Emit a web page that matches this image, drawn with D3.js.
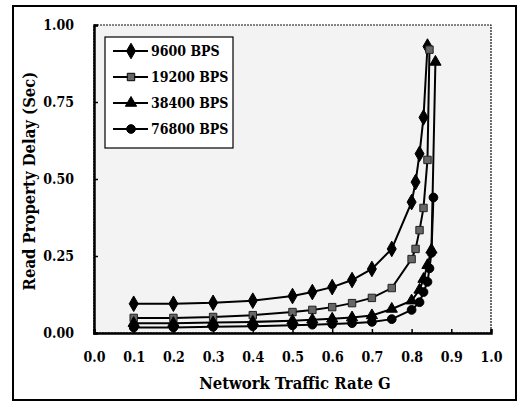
<!DOCTYPE html>
<html><head><meta charset="utf-8">
<script src="https://cdn.jsdelivr.net/npm/d3@7"></script>
<style>body{margin:0;background:#fff}svg{display:block}
svg text{font-family:"DejaVu Serif Condensed","DejaVu Serif",serif;font-weight:bold;fill:#000}</style>
</head><body>
<script>
const seriesNames = ["9600 BPS","19200 BPS","38400 BPS","76800 BPS"];
const markers = ["diamond","square","triangle","circle"];
const x9600  = [0.1,0.2,0.3,0.4,0.5,0.55,0.6,0.65,0.7,0.75,0.8,0.81,0.82,0.83,0.84];
const y9600  = [0.095,0.095,0.098,0.105,0.12,0.133,0.149,0.172,0.208,0.273,0.425,0.49,0.582,0.70,0.93];
const x19200 = [0.1,0.2,0.3,0.4,0.5,0.55,0.6,0.65,0.7,0.75,0.8,0.81,0.82,0.83,0.84,0.845];
const y19200 = [0.049,0.049,0.052,0.058,0.068,0.075,0.084,0.097,0.114,0.146,0.24,0.273,0.334,0.406,0.562,0.92];
const x38400 = [0.1,0.2,0.3,0.4,0.5,0.55,0.6,0.65,0.7,0.75,0.8,0.82,0.83,0.84,0.85,0.86];
const y38400 = [0.032,0.032,0.034,0.036,0.040,0.043,0.046,0.050,0.057,0.078,0.105,0.14,0.175,0.22,0.27,0.88];
const x76800 = [0.1,0.2,0.3,0.4,0.5,0.55,0.6,0.65,0.7,0.75,0.8,0.82,0.83,0.84,0.845,0.85,0.855];
const y76800 = [0.018,0.018,0.020,0.022,0.025,0.027,0.029,0.032,0.036,0.045,0.075,0.10,0.133,0.166,0.21,0.26,0.44];
const xTicks = [0,0.1,0.2,0.3,0.4,0.5,0.6,0.7,0.8,0.9,1.0];
const yTicks = [0,0.25,0.5,0.75,1.0];

const W=519,H=403;
const svg=d3.select("body").append("svg").attr("width",W).attr("height",H);
const L=94,R=491,T=25,B=333;
const x=d3.scaleLinear().domain([0,1]).range([L,R]);
const y=d3.scaleLinear().domain([0,1]).range([B,T]);

svg.append("rect").attr("x",13).attr("y",6).attr("width",503).attr("height",394)
  .attr("fill","none").attr("stroke","#000").attr("stroke-width",2);

svg.append("rect").attr("x",L).attr("y",T).attr("width",R-L).attr("height",B-T)
  .attr("fill","#f3f3f3").attr("stroke","#111").attr("stroke-width",1.2).attr("stroke-dasharray","2,1");

const gx=svg.append("g").attr("transform",`translate(0,${B})`)
  .call(d3.axisBottom(x).tickValues(xTicks).tickSize(-4).tickPadding(19).tickFormat(d3.format(".1f")));
const gy=svg.append("g").attr("transform",`translate(${L},0)`)
  .call(d3.axisLeft(y).tickValues(yTicks).tickSize(-4).tickPadding(20).tickFormat(d3.format(".2f")));
[gx,gy].forEach(g=>{
  g.attr("font-family",null);
  g.select(".domain").attr("stroke","#000").attr("stroke-width",2.5);
  g.selectAll(".tick line").attr("stroke","#000").attr("stroke-width",1.5);
  g.selectAll("text").style("font-size","14px");
});

svg.append("text").attr("x",295).attr("y",389).attr("text-anchor","middle")
  .style("font-size","16.5px").text("Network Traffic Rate G");
svg.append("text").attr("transform","translate(35,181) rotate(-90)").attr("text-anchor","middle")
  .style("font-size","16.5px").text("Read Property Delay (Sec)");

const data=[[x9600,y9600],[x19200,y19200],[x38400,y38400],[x76800,y76800]];
const symType={diamond:d3.symbolDiamond,square:d3.symbolSquare,triangle:d3.symbolTriangle,circle:d3.symbolCircle};
const symSize={diamond:70,square:55,triangle:55,circle:60};
const fills=["#000","#666","#000","#000"];
const line=d3.line().x(d=>x(d[0])).y(d=>y(d[1]));

data.forEach((s,i)=>{
  const pts=s[0].map((v,j)=>[v,s[1][j]]);
  svg.append("path").datum(pts).attr("d",line).attr("fill","none").attr("stroke","#000").attr("stroke-width",2);
  svg.selectAll(null).data(pts).enter().append("path")
    .attr("transform",d=>`translate(${x(d[0])},${y(d[1])})`)
    .attr("d",d3.symbol().type(symType[markers[i]]).size(symSize[markers[i]]))
    .attr("fill",fills[i]).attr("stroke",i===1?"#222":"#000").attr("stroke-width",1);
});

const lg=svg.append("g");
lg.append("rect").attr("x",105).attr("y",37).attr("width",128).attr("height",111)
  .attr("fill","#fff").attr("stroke","#000").attr("stroke-width",1.2);
seriesNames.forEach((n,i)=>{
  const yy=51+i*26;
  lg.append("line").attr("x1",113).attr("x2",148).attr("y1",yy).attr("y2",yy).attr("stroke","#000").attr("stroke-width",2);
  lg.append("path").attr("transform",`translate(131,${yy})`)
    .attr("d",d3.symbol().type(symType[markers[i]]).size(symSize[markers[i]]))
    .attr("fill",fills[i]).attr("stroke","#000").attr("stroke-width",1);
  lg.append("text").attr("x",151).attr("y",yy+5).style("font-size","14px").text(n);
});
</script>
</body></html>
